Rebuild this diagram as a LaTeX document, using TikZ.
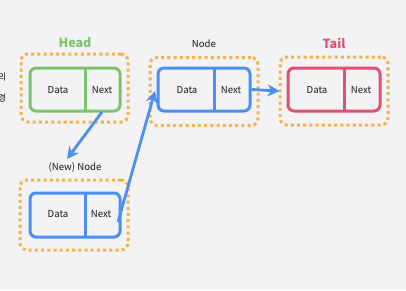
\documentclass[tikz,border=0pt]{standalone}
\usepackage{fontspec}
\setmainfont{Noto Sans CJK KR}
\usetikzlibrary{arrows.meta}
\definecolor{bg}{HTML}{F3F2F4}
\definecolor{hgreen}{HTML}{7CC46C}
\definecolor{nblue}{HTML}{4B8FF0}
\definecolor{tpink}{HTML}{E0506F}
\definecolor{dorange}{HTML}{F2B347}
\tikzset{
  frame/.style={draw=dorange, line width=3pt, dash pattern=on 3pt off 3.2pt, rounded corners=7pt, minimum width=#1, inner sep=0pt},
  cell/.style={draw=#1, line width=3pt, rounded corners=6pt, minimum height=43pt, inner sep=0pt},
  lbl/.style={font=\fontsize{9.6}{10}\selectfont, text=black!90},
  ttl/.style={font=\fontsize{12.5}{13}\selectfont\bfseries},
  arr/.style={draw=nblue, line width=2.8pt, -{Stealth[length=12pt,width=12pt]}},
}
\begin{document}
\begin{tikzpicture}[x=1pt,y=-1pt]
\fill[bg] (0,0) rectangle (406,290);
\useasboundingbox (0,0) rectangle (406,290);
\begin{scope}
\clip (0,0) rectangle (406,290);
\node[lbl, font=\fontsize{9}{9}\selectfont] (k1) at (2,77) {의};
\node[lbl, font=\fontsize{9}{9}\selectfont] (k2) at (2,98) {경};
\end{scope}
% frames
\node[frame=107pt, minimum height=68pt] (hf) at (74.5,88) {};
\node[frame=108pt, minimum height=68pt] (nf) at (204,91.5) {};
\node[frame=108pt, minimum height=68pt] (tf) at (334,91) {};
\node[frame=108pt, minimum height=70pt] (wf) at (74,215) {};
% cells
\node[cell=hgreen, minimum width=90pt] (h) at (75,89.5) {};
\draw[hgreen, line width=3pt] (85,68) -- (85,111);
\node[cell=nblue, minimum width=92pt] (n) at (204,89.5) {};
\draw[nblue, line width=3pt] (214,68) -- (214,111);
\node[cell=tpink, minimum width=92pt] (t) at (334,89.5) {};
\draw[tpink, line width=3pt] (344,68) -- (344,111);
\node[cell=nblue, minimum width=90pt, minimum height=44pt] (w) at (75,215) {};
\draw[nblue, line width=3pt] (85,193) -- (85,237);
% labels
\node[lbl] (hd) at (58,90) {Data};
\node[lbl] (hn) at (102,90) {Next};
\node[lbl] (nd) at (187,90) {Data};
\node[lbl] (nn) at (231,90) {Next};
\node[lbl] (td) at (317,90) {Data};
\node[lbl] (tn) at (361,90) {Next};
\node[lbl] (wd) at (58,214) {Data};
\node[lbl] (wn) at (101,214) {Next};
% titles
\node[ttl, text=hgreen] (ht) at (75,43) {Head};
\node[lbl] (nt) at (204,44) {Node};
\node[ttl, text=tpink] (tt) at (334,43) {Tail};
\node[lbl] (wt) at (75,168) {(New) Node};
% arrows
\coordinate (a1s) at (102,112);
\coordinate (a1e) at (67,159);
\coordinate (a2s) at (118,222);
\coordinate (a2e) at (155,91);
\draw[arr] (a1s) -- (a1e);
\draw[arr] (a2s) -- (a2e);
\draw[arr] (n.east) -- ([xshift=1pt]tf.west);
\end{tikzpicture}
\end{document}
